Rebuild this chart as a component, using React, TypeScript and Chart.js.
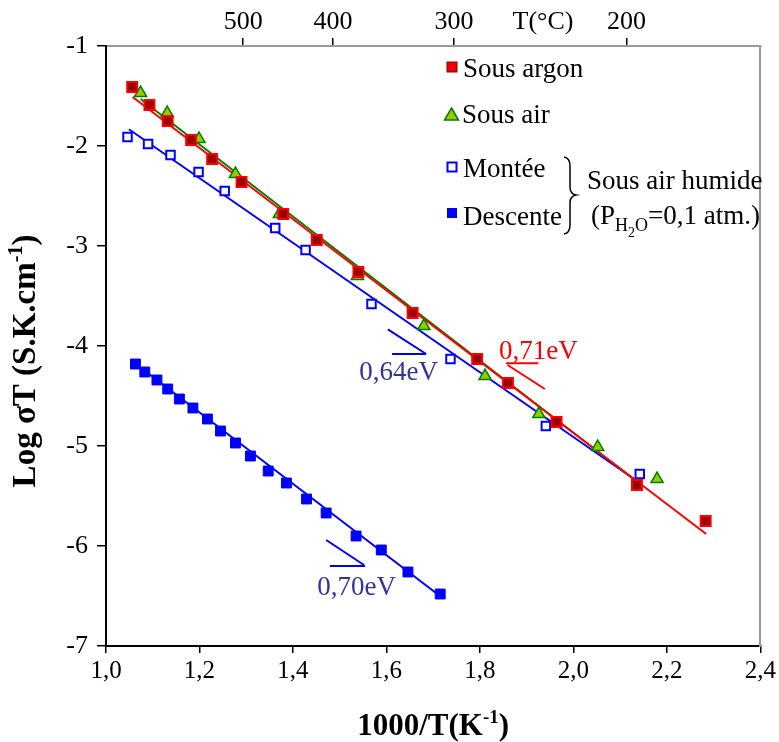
import React, { useEffect, useRef } from 'react';
import { Chart, registerables } from 'chart.js';

Chart.register(...registerables);

const FONT = '"Liberation Serif", "Times New Roman", Times, serif';

// ---- Data (x = 1000/T in K^-1, y = Log sigmaT) ----
const ARGON_X = [1.056, 1.093, 1.132, 1.182, 1.227, 1.29, 1.379, 1.451, 1.54, 1.656, 1.794, 1.86, 1.964, 2.136, 2.283];
const ARGON_Y = [-1.41, -1.59, -1.75, -1.94, -2.13, -2.36, -2.68, -2.94, -3.26, -3.67, -4.13, -4.37, -4.76, -5.39, -5.75];

const AIR_X = [1.074, 1.131, 1.199, 1.277, 1.371, 1.538, 1.68, 1.811, 1.926, 2.052, 2.179];
const AIR_Y = [-1.47, -1.67, -1.93, -2.28, -2.68, -3.3, -3.8, -4.3, -4.68, -5.01, -5.33];

const MONTEE_X = [1.046, 1.09, 1.138, 1.198, 1.254, 1.362, 1.427, 1.568, 1.737, 1.941, 2.142];
const MONTEE_Y = [-1.91, -1.98, -2.09, -2.26, -2.45, -2.82, -3.04, -3.58, -4.13, -4.8, -5.28];

const DESCENTE_X = [1.063, 1.083, 1.109, 1.132, 1.157, 1.186, 1.217, 1.245, 1.277, 1.309, 1.347, 1.386, 1.429, 1.471, 1.535, 1.589, 1.646, 1.715];
const DESCENTE_Y = [-4.18, -4.26, -4.34, -4.43, -4.53, -4.62, -4.73, -4.85, -4.97, -5.1, -5.25, -5.37, -5.53, -5.67, -5.9, -6.04, -6.26, -6.48];

// Fitted straight lines (end points)
const ARGON_FIT_X = [1.057, 2.284];
const ARGON_FIT_Y = [-1.51, -5.88];
const AIR_FIT_X = [1.074, 2.145];
const AIR_FIT_Y = [-1.53, -5.39];
const MONTEE_FIT_X = [1.049, 2.142];
const MONTEE_FIT_Y = [-1.833, -5.37];
const DESCENTE_FIT_X = [1.058, 1.718];
const DESCENTE_FIT_Y = [-4.157, -6.513];

// Axes
const X_MIN = 1.0;
const X_MAX = 2.4;
const X_STEP = 0.2;
const Y_MIN = -7;
const Y_MAX = -1;
const Y_STEP = 1;
const TOP_TICK_TEMPS_C = [500, 400, 300, 200];
const TOP_AXIS_LABEL = 'T(°C)';
const TOP_AXIS_LABEL_POS = 1.935;

// Activation-energy annotations
const SLOPE_LABELS = ['0,64eV', '0,71eV', '0,70eV'];
const SLOPE_LABEL_X = [1.626, 1.925, 1.536];
const SLOPE_LABEL_Y = [-4.34, -4.13, -6.49];
const SLOPE_DIAG_X0 = [1.603, 1.859, 1.471];
const SLOPE_DIAG_Y0 = [-3.833, -4.19, -5.94];
const SLOPE_DIAG_X1 = [1.685, 1.939, 1.552];
const SLOPE_DIAG_Y1 = [-4.08, -4.43, -6.19];
const SLOPE_HORIZ_X0 = [1.612, 1.856, 1.479];
const SLOPE_HORIZ_X1 = [1.685, 1.925, 1.554];
const SLOPE_HORIZ_Y = [-4.08, -4.173, -6.2];
const SLOPE_TEXT_COLORS = ['#333399', '#ff0000', '#333399'];
const SLOPE_LINE_COLORS = ['#0000ff', '#ff0000', '#0000ff'];

const LEGEND_LABELS = ['Sous argon', 'Sous air', 'Montée', 'Descente'];

const pts = (xs: number[], ys: number[]) => xs.map((x, i) => ({ x, y: ys[i] }));

type Part = { text: string; font: string; dy?: number };

function drawRich(ctx: CanvasRenderingContext2D, parts: Part[], x: number, y: number, align: 'left' | 'center') {
  const widths = parts.map((p) => {
    ctx.font = p.font;
    return ctx.measureText(p.text).width;
  });
  const total = widths.reduce((a, b) => a + b, 0);
  let cx = align === 'center' ? x - total / 2 : x;
  ctx.textAlign = 'left';
  ctx.textBaseline = 'alphabetic';
  parts.forEach((p, i) => {
    ctx.font = p.font;
    ctx.fillText(p.text, cx, y + (p.dy || 0));
    cx += widths[i];
  });
}

const overlayPlugin = {
  id: 'overlay',
  afterDraw(chart: any) {
    const ctx: CanvasRenderingContext2D = chart.ctx;
    const xs = chart.scales.x;
    const ys = chart.scales.y;
    const px = (v: number) => xs.getPixelForValue(v);
    const py = (v: number) => ys.getPixelForValue(v);
    ctx.save();

    // slope annotations
    for (let i = 0; i < SLOPE_LABELS.length; i++) {
      ctx.strokeStyle = SLOPE_LINE_COLORS[i];
      ctx.lineWidth = 2;
      ctx.beginPath();
      ctx.moveTo(px(SLOPE_DIAG_X0[i]), py(SLOPE_DIAG_Y0[i]));
      ctx.lineTo(px(SLOPE_DIAG_X1[i]), py(SLOPE_DIAG_Y1[i]));
      ctx.moveTo(px(SLOPE_HORIZ_X0[i]), py(SLOPE_HORIZ_Y[i]));
      ctx.lineTo(px(SLOPE_HORIZ_X1[i]), py(SLOPE_HORIZ_Y[i]));
      ctx.stroke();
      ctx.fillStyle = SLOPE_TEXT_COLORS[i];
      ctx.font = `27px ${FONT}`;
      ctx.textAlign = 'center';
      ctx.textBaseline = 'alphabetic';
      ctx.fillText(SLOPE_LABELS[i], px(SLOPE_LABEL_X[i]), py(SLOPE_LABEL_Y[i]));
    }

    // legend
    const mx = 452;
    const tx = 463;
    const rowY = [67, 115, 167, 213];
    const baseY = [77, 123, 177, 225];
    // red square
    ctx.fillStyle = '#ee0000';
    ctx.strokeStyle = '#880000';
    ctx.lineWidth = 1;
    ctx.fillRect(mx - 5, rowY[0] - 5, 10, 10);
    ctx.strokeRect(mx - 5, rowY[0] - 5, 10, 10);
    // triangle
    ctx.beginPath();
    ctx.moveTo(mx - 0.5, rowY[1] - 7);
    ctx.lineTo(mx + 6.5, rowY[1] + 5);
    ctx.lineTo(mx - 7.5, rowY[1] + 5);
    ctx.closePath();
    ctx.fillStyle = '#99cc00';
    ctx.fill();
    ctx.strokeStyle = '#008000';
    ctx.lineWidth = 1.5;
    ctx.stroke();
    // open square
    ctx.strokeStyle = '#0000ff';
    ctx.lineWidth = 2;
    ctx.fillStyle = '#ffffff';
    ctx.fillRect(mx - 4.5, rowY[2] - 4.5, 9, 9);
    ctx.strokeRect(mx - 4.5, rowY[2] - 4.5, 9, 9);
    // filled square
    ctx.fillStyle = '#0000ff';
    ctx.fillRect(mx - 5, rowY[3] - 5, 10, 10);

    ctx.fillStyle = '#000';
    ctx.font = `27px ${FONT}`;
    ctx.textAlign = 'left';
    ctx.textBaseline = 'alphabetic';
    LEGEND_LABELS.forEach((l, i) => ctx.fillText(l, i === 1 ? tx - 1 : tx, baseY[i]));

    // brace
    ctx.strokeStyle = '#000';
    ctx.lineWidth = 1.5;
    ctx.beginPath();
    ctx.moveTo(564, 157);
    ctx.quadraticCurveTo(570, 158, 570, 166);
    ctx.lineTo(570, 187);
    ctx.quadraticCurveTo(570, 194, 576, 195);
    ctx.quadraticCurveTo(570, 196, 570, 203);
    ctx.lineTo(570, 225);
    ctx.quadraticCurveTo(570, 233, 564, 234);
    ctx.stroke();

    ctx.fillStyle = '#000';
    ctx.font = `27px ${FONT}`;
    ctx.fillText('Sous air humide', 587, 189);
    drawRich(
      ctx,
      [
        { text: '(P', font: `27px ${FONT}` },
        { text: 'H', font: `18px ${FONT}`, dy: 7 },
        { text: '2', font: `14px ${FONT}`, dy: 13 },
        { text: 'O', font: `18px ${FONT}`, dy: 7 },
        { text: '=0,1 atm.)', font: `27px ${FONT}` },
      ],
      591,
      224,
      'left'
    );

    // axis titles
    const cA = chart.chartArea;
    drawRich(
      ctx,
      [
        { text: '1000/T(K', font: `bold 31px ${FONT}` },
        { text: '-1', font: `bold 19px ${FONT}`, dy: -12 },
        { text: ')', font: `bold 31px ${FONT}` },
      ],
      (cA.left + cA.right) / 2,
      735,
      'center'
    );
    ctx.save();
    ctx.translate(35, 361);
    ctx.rotate(-Math.PI / 2);
    drawRich(
      ctx,
      [
        { text: 'Log σT (S.K.cm', font: `bold 33px ${FONT}` },
        { text: '-1', font: `bold 20px ${FONT}`, dy: -13 },
        { text: ')', font: `bold 33px ${FONT}` },
      ],
      0,
      0,
      'center'
    );
    ctx.restore();

    ctx.restore();
  },
};

export default function App() {
  const ref = useRef<HTMLCanvasElement | null>(null);

  useEffect(() => {
    if (!ref.current) return;
    Chart.defaults.font.family = FONT;
    Chart.defaults.color = '#000';

    const topTicks = [
      ...TOP_TICK_TEMPS_C.map((t) => ({ value: 1000 / (t + 273.15), label: String(t), mark: true })),
      { value: TOP_AXIS_LABEL_POS, label: TOP_AXIS_LABEL, mark: false },
    ].sort((a, b) => a.value - b.value);

    const chart = new Chart(ref.current, {
      type: 'scatter',
      data: {
        datasets: [
          {
            label: 'Sous argon',
            data: pts(ARGON_X, ARGON_Y),
            pointStyle: 'rect',
            pointRadius: 7,
            backgroundColor: '#9a0000',
            borderColor: '#ff0000',
            borderWidth: 2,
          },
          {
            label: 'Sous air',
            data: pts(AIR_X, AIR_Y),
            pointStyle: 'triangle',
            pointRadius: 7,
            backgroundColor: '#99cc00',
            borderColor: '#008000',
            borderWidth: 1.5,
          },
          {
            label: 'Montée',
            data: pts(MONTEE_X, MONTEE_Y),
            pointStyle: 'rect',
            pointRadius: 6,
            backgroundColor: '#ffffff',
            borderColor: '#0000ff',
            borderWidth: 2,
          },
          {
            label: 'Descente',
            data: pts(DESCENTE_X, DESCENTE_Y),
            pointStyle: 'rect',
            pointRadius: 7,
            backgroundColor: '#0000ff',
            borderColor: '#0000ff',
            borderWidth: 1,
          },
          {
            label: 'fit argon',
            data: pts(ARGON_FIT_X, ARGON_FIT_Y),
            showLine: true,
            pointRadius: 0,
            borderColor: '#ff0000',
            borderWidth: 2,
          },
          {
            label: 'fit air',
            data: pts(AIR_FIT_X, AIR_FIT_Y),
            showLine: true,
            pointRadius: 0,
            borderColor: '#008000',
            borderWidth: 2,
          },
          {
            label: 'fit montée',
            data: pts(MONTEE_FIT_X, MONTEE_FIT_Y),
            showLine: true,
            pointRadius: 0,
            borderColor: '#0000ff',
            borderWidth: 2,
          },
          {
            label: 'fit descente',
            data: pts(DESCENTE_FIT_X, DESCENTE_FIT_Y),
            showLine: true,
            pointRadius: 0,
            borderColor: '#0000ff',
            borderWidth: 2,
          },
        ],
      },
      options: {
        animation: false,
        responsive: false,
        devicePixelRatio: 1,
        layout: { padding: 0 },
        plugins: {
          legend: { display: false },
          tooltip: { enabled: false },
        },
        scales: {
          x: {
            type: 'linear',
            position: 'bottom',
            min: X_MIN,
            max: X_MAX,
            ticks: {
              stepSize: X_STEP,
              font: { size: 25 },
              color: '#000',
              padding: 3,
              maxRotation: 0,
              callback: (v: any) => Number(v).toFixed(1).replace('.', ','),
            },
            grid: { drawOnChartArea: false, tickLength: 7, color: '#000', lineWidth: 1.5 },
            border: { color: '#000', width: 2 },
            afterFit: (s: any) => {
              s.height = 96;
            },
          },
          x2: {
            type: 'linear',
            position: 'top',
            min: X_MIN,
            max: X_MAX,
            afterBuildTicks: (s: any) => {
              s.ticks = topTicks.map((t) => ({ value: t.value }));
            },
            ticks: {
              autoSkip: false,
              font: { size: 26 },
              color: '#000',
              padding: 0,
              maxRotation: 0,
              callback: (_v: any, i: number) => topTicks[i].label,
            },
            grid: {
              drawOnChartArea: false,
              tickLength: 8,
              lineWidth: 1.5,
              tickColor: (c: any) => (topTicks[c.index] && topTicks[c.index].mark ? '#000' : 'rgba(0,0,0,0)'),
            },
            border: { color: '#999', width: 2 },
            afterFit: (s: any) => {
              s.height = 46;
            },
          },
          y: {
            type: 'linear',
            position: 'left',
            min: Y_MIN,
            max: Y_MAX,
            ticks: {
              stepSize: Y_STEP,
              font: { size: 26 },
              color: '#000',
              padding: 9,
              callback: (v: any) => String(v),
            },
            grid: { drawOnChartArea: false, tickLength: 9, color: '#000', lineWidth: 1.5 },
            border: { color: '#000', width: 2 },
            afterFit: (s: any) => {
              s.width = 106;
            },
          },
          y2: {
            type: 'linear',
            position: 'right',
            min: Y_MIN,
            max: Y_MAX,
            ticks: { display: false },
            grid: { drawOnChartArea: false, drawTicks: false },
            border: { color: '#999', width: 2 },
            afterFit: (s: any) => {
              s.width = 13;
            },
          },
        },
      },
      plugins: [overlayPlugin],
    } as any);

    return () => chart.destroy();
  }, []);

  return (
    <div style={{ position: 'absolute', left: 0, top: 0, width: 779, height: 742, background: '#fff' }}>
      <canvas ref={ref} width={779} height={742} style={{ width: 779, height: 742, display: 'block' }} />
    </div>
  );
}
